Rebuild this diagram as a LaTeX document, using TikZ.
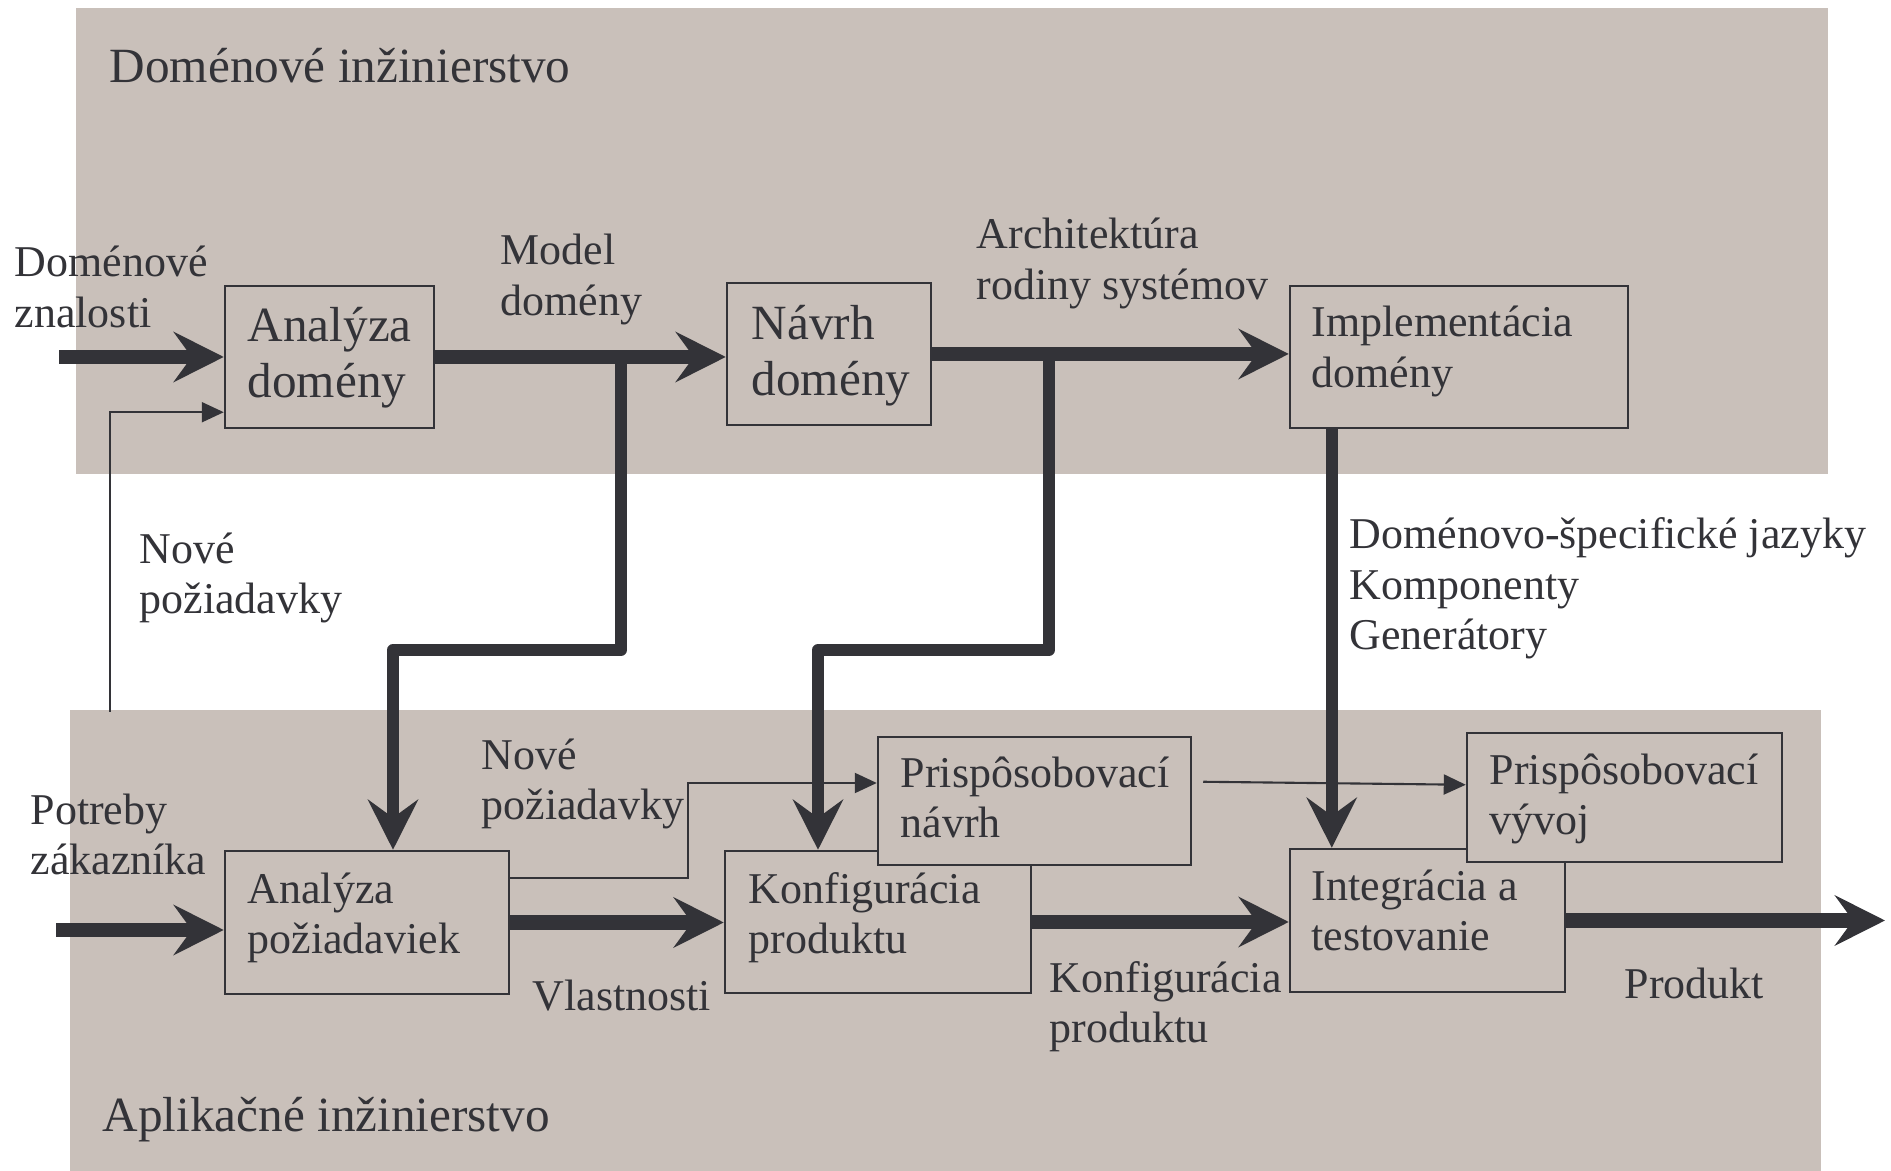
\documentclass[tikz,border=0pt]{standalone}
\usepackage{fontspec}
\setmainfont{Liberation Serif}
\usetikzlibrary{arrows.meta, fit, calc}
\definecolor{bandcol}{RGB}{201,192,186}
\definecolor{dark}{RGB}{51,51,56}
\tikzset{
  lbl/.style={font=\fontsize{12.5}{14.5}\selectfont, text=dark, inner sep=0pt, align=left, anchor=base west},
  lblbig/.style={lbl, font=\fontsize{14}{16.2}\selectfont},
  box/.style={draw=dark, line width=0.7pt, inner sep=0pt},
  fbox/.style={box, fill=bandcol},
  thickarrow/.style={draw=dark, line width=0.14cm, -{Stealth[length=0.5cm, width=0.5cm, inset=0.18cm]}},
  route/.style={draw=dark, line width=0.12cm, line join=round, -{Stealth[length=0.5cm, width=0.5cm, inset=0.18cm]}},
  thinarrow/.style={draw=dark, line width=0.6pt, -{Triangle[length=0.22cm, width=0.2cm]}}
}
\begin{document}
\begin{tikzpicture}[x=0.01cm, y=-0.01cm]
\useasboundingbox (0,0) rectangle (1891,1171);
% bands
\fill[bandcol] (76,8) rectangle (1828,474);
\fill[bandcol] (70,710) rectangle (1821,1171);
% boxes
\node[box, fit={(225,286) (434,428)}] (ad) {};
\node[box, fit={(727,283) (931,425)}] (nd) {};
\node[box, fit={(1290,286) (1628,428)}] (id) {};
\node[box, fit={(225,851) (509,994)}] (ap) {};
\node[box, fit={(725,851) (1031,993)}] (kp) {};
\node[fbox, fit={(878,737) (1191,865)}] (pn) {};
\node[box, fit={(1290,849) (1565,992)}] (it) {};
\node[fbox, fit={(1467,733) (1782,862)}] (pv) {};
% box texts (anchor = baseline of last line)
\node[lblbig] (adt) at (247,398) {Analýza\\domény};
\node[lblbig] (ndt) at (751,396) {Návrh\\domény};
\node[lbl] (idt) at (1311,388) {Implementácia\\domény};
\node[lbl] (apt) at (247,954) {Analýza\\požiadaviek};
\node[lbl] (kpt) at (748,954) {Konfigurácia\\produktu};
\node[lbl] (pnt) at (900,838) {Prispôsobovací\\návrh};
\node[lbl] (pvt) at (1489,835) {Prispôsobovací\\vývoj};
\node[lbl] (itt) at (1311,951) {Integrácia a\\testovanie};
% labels
\node[lblbig] (ttop) at (109,83) {Doménové inžinierstvo};
\node[lblbig] (tbot) at (102,1132) {Aplikačné inžinierstvo};
\node[lbl] (l1) at (14,328) {Doménové\\znalosti};
\node[lbl] (l2) at (500,316) {Model\\domény};
\node[lbl] (l3) at (976,300) {Architektúra\\rodiny systémov};
\node[lbl] (l4) at (1349,650) {Doménovo-špecifické jazyky\\Komponenty\\Generátory};
\node[lbl] (l5) at (139,614) {Nové\\požiadavky};
\node[lbl] (l6) at (481,820) {Nové\\požiadavky};
\node[lbl] (l7) at (30,875) {Potreby\\zákazníka};
\node[lbl] (l8) at (532,1011) {Vlastnosti};
\node[lbl] (l9) at (1049,1043) {Konfigurácia\\produktu};
\node[lbl] (l10) at (1624,999) {Produkt};
% coordinates
\coordinate (in1) at (59,357);
\coordinate (in2) at (56,930);
\coordinate (out) at (1885,921);
\coordinate (b1) at (621,357);
\coordinate (c1) at (393,650);
\coordinate (b2) at (1049,356);
\coordinate (c3) at (818,650);
\coordinate (n1) at (110,712);
\coordinate (c2) at (688,783);
\coordinate (v1) at ($(id.south west)+(43,0)$);
\coordinate (tad) at ($(ad.south west)+(0,-17)$);
\coordinate (sap) at ($(ap.north east)+(0,28)$);
\coordinate (spn) at ($(pn.north east)+(11,46)$);
\coordinate (tpv) at ($(pv.north west)+(0,53)$);
% thin connectors
\draw[thinarrow] (n1) |- (tad);
\draw[thinarrow] (sap) -| (c2) -- (c2 -| pn.west);
\draw[thinarrow] (spn) -- (tpv);
% thick connectors
\draw[thickarrow] (in1) -- (in1 -| ad.west);
\draw[thickarrow] (ad.east) -- (ad.east -| nd.west);
\draw[thickarrow] (nd.east) -- (nd.east -| id.west);
\draw[route] (b1) |- (c1) -- (c1 |- ap.north);
\draw[route] (b2) |- (c3) -- (c3 |- kp.north);
\draw[route] (v1) -- (v1 |- it.north);
\draw[thickarrow] (in2) -- (in2 -| ap.west);
\draw[thickarrow] (ap.east) -- (ap.east -| kp.west);
\draw[thickarrow] (kp.east) -- (kp.east -| it.west);
\draw[thickarrow] (it.east) -- (it.east -| out);
\end{tikzpicture}
\end{document}
